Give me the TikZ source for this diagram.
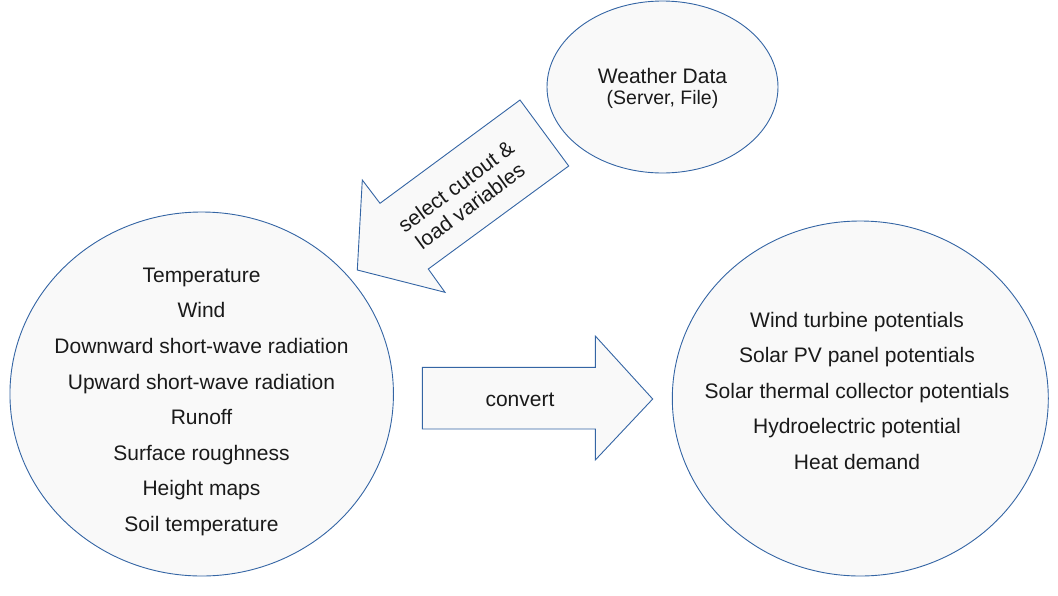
\documentclass[tikz,border=0pt]{standalone}
\usepackage{fontspec}
\setmainfont{Liberation Sans}
\usetikzlibrary{shapes.geometric}
\definecolor{edgeblue}{HTML}{3465A4}
\definecolor{shapefill}{HTML}{F9F9F9}
\definecolor{txt}{HTML}{1A1A1A}
\tikzset{
  blob/.style={ellipse, draw=edgeblue, fill=shapefill, line width=0.9pt, inner sep=0pt, outer sep=0pt},
  bigarrow/.style={draw=edgeblue, fill=shapefill, line width=0.9pt, line join=miter},
  lbl/.style={text=txt, font=\fontsize{21}{24}\selectfont, inner sep=0pt},
  listtext/.style={text=txt, font=\fontsize{21}{35.6}\selectfont, align=center, inner sep=0pt, anchor=base},
}
\begin{document}
\begin{tikzpicture}[x=1pt,y=-1pt]
\useasboundingbox (0,0) rectangle (1058,595);
% ellipses
\node[blob, minimum width=231pt, minimum height=172pt] (weather) at (662.5,87) {};
\node[blob, minimum width=383.5pt, minimum height=364pt] (input) at (201.7,394) {};
\node[blob, minimum width=376pt, minimum height=355pt] (output) at (860.3,398.5) {};
% diagonal arrow
\draw[bigarrow] (520,100) -- (568.7,166) -- (428.3,269) -- (445,292.3) -- (357.3,270)
  -- (362.3,180) -- (380,203.3) -- cycle;
% convert arrow
\draw[bigarrow] (422.3,367.3) -- (595.3,367.3) -- (595.3,336) -- (652.7,399)
  -- (595.3,460) -- (595.3,429) -- (422.3,429) -- cycle;
% texts
\node[lbl, anchor=base] (wt1) at (662.5,83) {Weather Data};
\node[lbl, anchor=base, font=\fontsize{19.5}{22}\selectfont] (wt2) at (662.5,104) {(Server, File)};
\node[lbl, align=center, rotate=36.4] (sel) at (463,196) {select cutout \&\\load variables};
\node[lbl, anchor=base] (conv) at (520,406) {convert};
\node[listtext] (intext) at (201.5,531.5) {Temperature\\Wind\\Downward short-wave radiation\\Upward short-wave radiation\\Runoff\\Surface roughness\\Height maps\\Soil temperature};
\node[listtext] (outtext) at (857,469.5) {Wind turbine potentials\\Solar PV panel potentials\\Solar thermal collector potentials\\Hydroelectric potential\\Heat demand};
\end{tikzpicture}
\end{document}
